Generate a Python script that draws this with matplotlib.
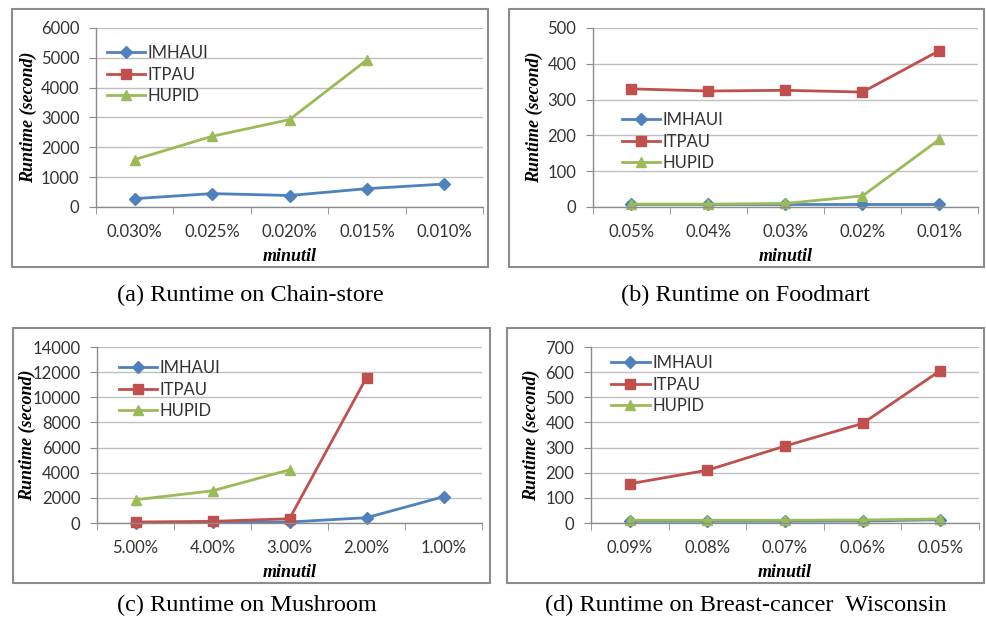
import numpy as np
import matplotlib
matplotlib.use('Agg')
import matplotlib.pyplot as plt
from matplotlib.patches import Rectangle

nan = np.nan
series = ['IMHAUI', 'ITPAU', 'HUPID']
colors = ['#4F81BD', '#C0504D', '#9BBB59']
markers = ['D', 's', '^']

chain_x = ['0.030%', '0.025%', '0.020%', '0.015%', '0.010%']
chain_imhaui = [280, 450, 385, 615, 770]
chain_itpau = [nan, nan, nan, nan, nan]
chain_hupid = [1590, 2370, 2930, 4930, nan]

food_x = ['0.05%', '0.04%', '0.03%', '0.02%', '0.01%']
food_imhaui = [8, 8, 8, 8, 8]
food_itpau = [330, 324, 326, 321, 437]
food_hupid = [8, 8, 10, 31, 189]

mush_x = ['5.00%', '4.00%', '3.00%', '2.00%', '1.00%']
mush_imhaui = [20, 50, 80, 420, 2090]
mush_itpau = [80, 130, 340, 11570, nan]
mush_hupid = [1850, 2560, 4230, nan, nan]

breast_x = ['0.09%', '0.08%', '0.07%', '0.06%', '0.05%']
breast_imhaui = [7, 7, 7, 8, 13]
breast_itpau = [156, 210, 306, 396, 606]
breast_hupid = [11, 11, 11, 12, 16]

fig = plt.figure(figsize=(9.87, 6.21), dpi=100)
W, H = 987.0, 621.0


def px_axes(l, t, r, b):
    return fig.add_axes([l / W, 1 - b / H, (r - l) / W, (b - t) / H])


panels = [
    dict(box=(12, 9, 488, 267), ax=(96, 28, 483, 207), x=chain_x,
         ys=[chain_imhaui, chain_itpau, chain_hupid], ymax=6000, step=1000,
         leg=(0.028, 0.905), ylab=28, xlab=248,
         cap='(a) Runtime on Chain-store', capxy=(250, 295)),
    dict(box=(509, 9, 984, 267), ax=(593, 28, 978, 207), x=food_x,
         ys=[food_imhaui, food_itpau, food_hupid], ymax=500, step=100,
         leg=(0.075, 0.53), ylab=534, xlab=248,
         cap='(b) Runtime on Foodmart', capxy=(746, 295)),
    dict(box=(13, 328, 490, 583), ax=(97, 347, 482, 523), x=mush_x,
         ys=[mush_imhaui, mush_itpau, mush_hupid], ymax=14000, step=2000,
         leg=(0.057, 0.925), ylab=27, xlab=564,
         cap='(c) Runtime on Mushroom', capxy=(247, 605)),
    dict(box=(507, 328, 984, 583), ax=(591, 347, 979, 523), x=breast_x,
         ys=[breast_imhaui, breast_itpau, breast_hupid], ymax=700, step=100,
         leg=(0.052, 0.953), ylab=531, xlab=564,
         cap='(d) Runtime on Breast-cancer  Wisconsin', capxy=(746, 605)),
]

for p in panels:
    bl, bt, br, bb = p['box']
    fig.patches.append(Rectangle((bl / W, 1 - bb / H), (br - bl) / W, (bb - bt) / H,
                                 transform=fig.transFigure, fill=False,
                                 edgecolor='#8C8C8C', linewidth=1.5))
    l, t, r, b = p['ax']
    ax = px_axes(l, t, r, b)
    xs = np.arange(len(p['x']))
    for name, ys, c, m in zip(series, p['ys'], colors, markers):
        ax.plot(xs, ys, color=c, marker=m, markersize=7 if m != 'D' else 6,
                linewidth=2, label=name, clip_on=False)
    ax.set_xlim(-0.5, len(xs) - 0.5)
    ax.set_ylim(0, p['ymax'])
    ax.set_yticks(np.arange(0, p['ymax'] + 1, p['step']))
    ax.set_xticks(xs)
    ax.set_xticklabels(p['x'])
    ax.set_xticks(np.arange(-0.5, len(xs), 1.0), minor=True)
    ax.tick_params(axis='x', which='major', length=0, pad=12.5,
                   labelsize=12, labelcolor='#333333')
    ax.tick_params(axis='x', which='minor', length=5, color='#8C8C8C', direction='out')
    ax.tick_params(axis='y', length=5, color='#8C8C8C', pad=7,
                   labelsize=12, labelcolor='#333333')
    for lab in ax.get_xticklabels() + ax.get_yticklabels():
        lab.set_fontfamily('Lato')
    ax.grid(axis='y', color='#BFBFBF', linewidth=1)
    ax.set_axisbelow(True)
    for s in ['top', 'right']:
        ax.spines[s].set_visible(False)
    for s in ['left', 'bottom']:
        ax.spines[s].set_color('#8C8C8C')
        ax.spines[s].set_linewidth(1)
    ax.set_ylabel('Runtime (second)', fontfamily='Liberation Serif',
                  fontweight='bold', fontstyle='italic', fontsize=13, va='center')
    ax.yaxis.set_label_coords(-(l - p['ylab']) / (r - l), 0.5)
    ax.set_xlabel('minutil', fontfamily='Liberation Serif', fontweight='bold',
                  fontstyle='italic', fontsize=13, va='top')
    ax.xaxis.set_label_coords(0.5, -(p['xlab'] - b) / (b - t))
    leg = ax.legend(loc='upper left', bbox_to_anchor=p['leg'], frameon=False,
                    borderpad=0, borderaxespad=0, handlelength=2.3,
                    handletextpad=0.15, labelspacing=0.33,
                    prop={'family': 'Lato', 'size': 12})
    for txt in leg.get_texts():
        txt.set_color('#333333')
    cx, cy = p['capxy']
    fig.text(cx / W, 1 - cy / H, p['cap'], ha='center', va='center',
             fontfamily='Liberation Serif', fontsize=17.5)

fig.savefig('out.png', dpi=100)
